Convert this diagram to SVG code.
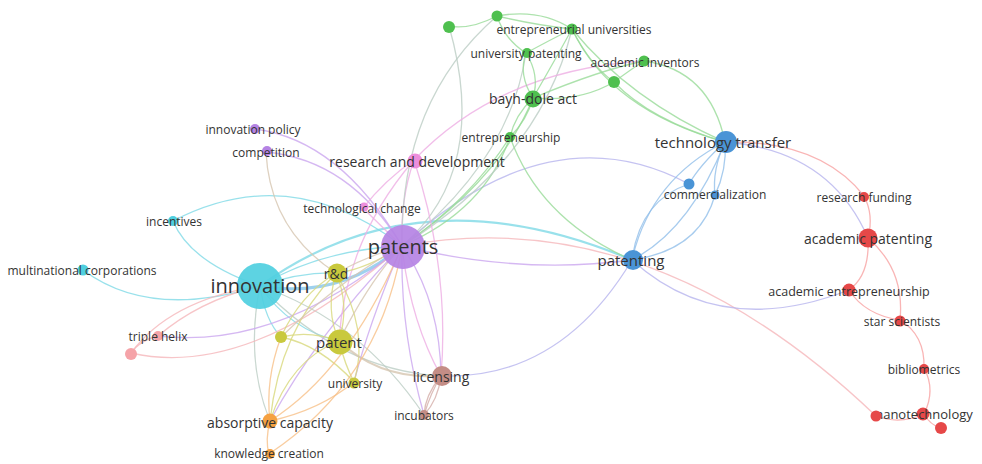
<svg xmlns="http://www.w3.org/2000/svg" width="982" height="464" viewBox="0 0 982 464">
<style>
.e{fill:none;stroke-width:1.3;stroke-opacity:0.8}
.w2{stroke-width:2.2}
.w3{stroke-width:3.2}
.cy{stroke:#7fd9e6}.pu{stroke:#caa6ef}.ye{stroke:#d8d87c}.or{stroke:#f7c088}.br{stroke:#d4aea9}
.pk{stroke:#f5b7ba}.mg{stroke:#eeaee4}.gr{stroke:#98db98}.bl{stroke:#92bfea}.rd{stroke:#f7a3a3}
.gy{stroke:#bccdc4}.pb{stroke:#b7b4ee}.cb{stroke:#86c6ea}.yp{stroke:#d6c6b0}
text{font-family:"Open Sans","DejaVu Sans",sans-serif;fill:#333;text-anchor:middle;dominant-baseline:central}
.n{stroke:none}
</style>
<rect width="982" height="464" fill="#ffffff"/>
<g id="connectors">
<!-- cyan / innovation -->
<path class="e cy" d="M260 286 Q190 262 173 221"/>
<path class="e cy" d="M83 270 Q150 320 260 286"/>
<path class="e cy" d="M173 221 Q290 160 402 246"/>
<path class="e cb w3" d="M260 286 Q340 300 402 246"/>
<path class="e cy" d="M260 286 Q320 250 402 246"/>
<path class="e cy w2" d="M260 286 Q420 170 632 260"/>
<path class="e cy" d="M260 286 Q300 272 336 273"/>
<path class="e cy" d="M260 286 Q290 330 339 341"/>
<path class="e gy" d="M260 286 Q245 360 270 421"/>
<path class="e gy" d="M260 286 Q340 370 441 376"/>
<path class="e cy" d="M260 286 Q265 320 281 337"/>
<path class="e pk" d="M158 336 Q200 300 260 286"/>
<path class="e gy" d="M260 286 Q360 320 424 415"/>
<!-- purple / patents -->
<path class="e pu" d="M402 246 Q340 140 255 129"/>
<path class="e pu" d="M266 152 Q350 160 402 246"/>
<path class="e yp" d="M266 152 Q270 230 336 273"/>
<path class="e mg" d="M402 246 Q400 200 414 160"/>
<path class="e mg" d="M402 246 Q380 225 363 208"/>
<path class="e pu" d="M402 246 Q440 300 441 376"/>
<path class="e mg" d="M402 246 Q410 320 441 376"/>
<path class="e pu" d="M402 246 Q400 330 424 415"/>
<path class="e pu" d="M402 246 Q370 320 354 382"/>
<path class="e pu" d="M402 246 Q320 330 270 421"/>
<path class="e pk" d="M402 246 Q250 380 131 353"/>
<path class="e pu" d="M402 246 Q280 350 158 336"/>
<path class="e pu" d="M402 246 Q520 275 632 260"/>
<path class="e pk" d="M402 246 Q650 200 876 416"/>
<path class="e pb" d="M402 246 Q550 110 689 184"/>
<path class="e gr" d="M402 246 Q470 200 510 137"/>
<path class="e gr" d="M402 246 Q485 210 510 137"/>
<path class="e gr" d="M402 246 Q500 180 533 98"/>
<path class="e gy" d="M402 246 Q510 160 526 53"/>
<path class="e gy" d="M449 26 Q490 170 402 246"/>
<path class="e gy" d="M497 16 Q400 100 402 246"/>
<path class="e gy" d="M572 29 Q540 160 402 246"/>
<path class="e mg" d="M644 61 Q500 70 414 160"/>
<path class="e mg" d="M414 160 Q385 180 363 208"/>
<path class="e mg" d="M414 160 Q450 270 441 376"/>
<path class="e mg" d="M414 160 Q345 240 339 341"/>
<!-- yellow -->
<path class="e ye" d="M336 273 Q350 305 339 341"/>
<path class="e ye" d="M336 273 Q325 310 339 341"/>
<path class="e ye" d="M336 273 Q300 295 281 337"/>
<path class="e ye" d="M336 273 Q370 330 354 382"/>
<path class="e ye" d="M336 273 Q280 330 270 421"/>
<path class="e yp" d="M336 273 Q370 255 402 246"/>
<path class="e ye" d="M336 273 Q365 270 402 246"/>
<path class="e ye" d="M339 341 Q345 365 354 382"/>
<path class="e yp w2" d="M339 341 Q380 380 441 376"/>
<path class="e ye" d="M339 341 Q290 360 270 421"/>
<path class="e ye" d="M281 337 Q310 330 339 341"/>
<path class="e or" d="M281 337 Q265 380 270 421"/>
<path class="e ye" d="M281 337 Q320 345 354 382"/>
<path class="e yp" d="M281 337 Q340 280 402 246"/>
<path class="e yp" d="M339 341 Q370 280 402 246"/>
<!-- orange -->
<path class="e or" d="M270 421 Q265 440 269 454"/>
<path class="e or" d="M269 454 Q380 380 402 246"/>
<path class="e or" d="M270 421 Q320 410 354 382"/>
<path class="e or" d="M270 421 Q350 370 402 246"/>
<!-- brown -->
<path class="e br" d="M441 376 Q425 395 424 415"/>
<path class="e br" d="M441 376 Q438 400 424 415"/>
<path class="e br" d="M441 376 Q431 392 424 415"/>
<path class="e pb" d="M441 376 Q560 380 632 260"/>
<!-- green -->
<path class="e gr" d="M449 26 Q470 30 497 16"/>
<path class="e gr" d="M497 16 Q540 8 572 29"/>
<path class="e gr" d="M497 16 Q535 25 572 29"/>
<path class="e gr" d="M644 61 Q710 70 725 142"/>
<path class="e gr" d="M572 29 Q610 110 725 142"/>
<path class="e gr" d="M572 29 Q630 100 725 142"/>
<path class="e gr" d="M614 82 Q650 120 725 142"/>
<path class="e gr" d="M526 53 Q518 75 533 98"/>
<path class="e gr" d="M526 53 Q540 75 533 98"/>
<path class="e gr" d="M526 53 Q550 40 572 29"/>
<path class="e gr" d="M526 53 Q505 40 497 16"/>
<path class="e gr" d="M572 29 Q555 60 533 98"/>
<path class="e gr" d="M533 98 Q580 102 614 82"/>
<path class="e gr" d="M533 98 Q600 70 644 61"/>
<path class="e gr" d="M614 82 Q630 70 644 61"/>
<path class="e gr" d="M572 29 Q590 65 614 82"/>
<path class="e gr" d="M533 98 Q515 115 510 137"/>
<path class="e gr" d="M533 98 Q527 120 510 137"/>
<path class="e gr" d="M510 137 Q540 220 632 260"/>
<!-- blue -->
<path class="e bl" d="M725 142 Q700 165 689 184"/>
<path class="e bl" d="M725 142 Q712 170 715 195"/>
<path class="e bl" d="M725 142 Q727 170 715 195"/>
<path class="e bl" d="M725 142 Q650 180 632 260"/>
<path class="e bl" d="M725 142 Q690 230 632 260"/>
<path class="e bl" d="M689 184 Q640 200 632 260"/>
<path class="e bl" d="M715 195 Q700 250 632 260"/>
<path class="e pb" d="M632 260 Q720 340 849 290"/>
<path class="e pb" d="M725 142 Q830 150 868 238"/>
<path class="e rd" d="M725 142 Q820 140 864 196"/>
<!-- red -->
<path class="e rd" d="M864 196 Q874 215 868 238"/>
<path class="e rd" d="M868 238 Q870 275 849 290"/>
<path class="e rd" d="M868 238 Q905 270 900 320"/>
<path class="e rd" d="M849 290 Q865 315 900 320"/>
<path class="e rd" d="M900 320 Q925 335 924 368"/>
<path class="e rd" d="M924 368 Q936 390 924 414"/>
<path class="e rd" d="M876 416 Q900 425 924 414"/>
<path class="e rd" d="M924 414 Q930 425 941 428"/>
<!-- pink -->
<path class="e pk" d="M158 336 Q140 340 131 353"/>
<path class="e pk" d="M131 353 Q170 300 260 286"/>
</g>
<g id="node-patents"><circle class="n" cx="403" cy="247" r="22" fill="#b583e4" fill-opacity="0.92"/><text x="403" y="246" font-size="20">patents</text></g>
<g id="node-innovation"><circle class="n" cx="260" cy="286" r="23" fill="#4fcfdf" fill-opacity="0.92"/><text x="260" y="285" font-size="20">innovation</text></g>
<g id="node-rd"><circle class="n" cx="337" cy="273" r="9.5" fill="#c9c93d"/><text x="336" y="273" font-size="14">r&amp;d</text></g>
<g id="node-patent"><circle class="n" cx="340" cy="342" r="12.5" fill="#c9c93d"/><text x="339" y="342" font-size="15">patent</text></g>
<g id="node-yellow2"><circle class="n" cx="281" cy="337" r="6" fill="#c9c93d"/></g>
<g id="node-university"><circle class="n" cx="354" cy="383" r="5.5" fill="#c9c93d"/><text x="355" y="383" font-size="12">university</text></g>
<g id="node-licensing"><circle class="n" cx="442" cy="376" r="10" fill="#c48d86"/><text x="441" y="376" font-size="14">licensing</text></g>
<g id="node-incubators"><circle class="n" cx="424" cy="415" r="5" fill="#c48d86"/><text x="424" y="415" font-size="12">incubators</text></g>
<g id="node-absorptive"><circle class="n" cx="270" cy="421" r="7.5" fill="#f5a142"/><text x="270" y="422" font-size="14">absorptive capacity</text></g>
<g id="node-knowledge"><circle class="n" cx="270" cy="454" r="5" fill="#f5a142"/><text x="269" y="453" font-size="12">knowledge creation</text></g>
<g id="node-triplehelix"><circle class="n" cx="158" cy="336" r="5" fill="#f5a3a8"/><text x="158" y="336" font-size="12">triple helix</text></g>
<g id="node-pink2"><circle class="n" cx="131" cy="354" r="6" fill="#f5a3a8"/></g>
<g id="node-multinational"><circle class="n" cx="83" cy="270" r="5.5" fill="#4fcfdf"/><text x="82" y="270" font-size="12">multinational corporations</text></g>
<g id="node-incentives"><circle class="n" cx="173" cy="221" r="5" fill="#4fcfdf"/><text x="174" y="221" font-size="12">incentives</text></g>
<g id="node-innovationpolicy"><circle class="n" cx="255" cy="129" r="5" fill="#b583e4"/><text x="253" y="129" font-size="12">innovation policy</text></g>
<g id="node-competition"><circle class="n" cx="267" cy="151" r="5" fill="#b583e4"/><text x="266" y="152" font-size="12">competition</text></g>
<g id="node-rnd"><circle class="n" cx="415" cy="161" r="7.5" fill="#ec8edc"/><text x="417" y="161" font-size="14">research and development</text></g>
<g id="node-techchange"><circle class="n" cx="364" cy="207" r="4.5" fill="#ec8edc"/><text x="362" y="208" font-size="12">technological change</text></g>
<g id="node-entrepreneurship"><circle class="n" cx="510" cy="137" r="5" fill="#4fc04f"/><text x="511" y="137" font-size="12">entrepreneurship</text></g>
<g id="node-bayhdole"><circle class="n" cx="533" cy="99" r="8.5" fill="#4fc04f"/><text x="533" y="98" font-size="14">bayh-dole act</text></g>
<g id="node-univpatenting"><circle class="n" cx="527" cy="53" r="5" fill="#4fc04f"/><text x="526" y="53" font-size="12">university patenting</text></g>
<g id="node-entuniv"><circle class="n" cx="572" cy="29" r="5.5" fill="#4fc04f"/><text x="574" y="29" font-size="12">entrepreneurial universities</text></g>
<g id="node-green1"><circle class="n" cx="449" cy="27" r="6" fill="#4fc04f"/></g>
<g id="node-green2"><circle class="n" cx="497" cy="16" r="5.5" fill="#4fc04f"/></g>
<g id="node-acadinventors"><circle class="n" cx="644" cy="61" r="5.5" fill="#4fc04f"/><text x="645" y="62" font-size="12">academic inventors</text></g>
<g id="node-green3"><circle class="n" cx="614" cy="82" r="6" fill="#4fc04f"/></g>
<g id="node-techtransfer"><circle class="n" cx="726" cy="142" r="11" fill="#4a94d6"/><text x="723" y="142" font-size="15">technology transfer</text></g>
<g id="node-blue1"><circle class="n" cx="689" cy="184" r="5.5" fill="#4a94d6"/></g>
<g id="node-commercialization"><circle class="n" cx="715" cy="195" r="4.5" fill="#4a94d6"/><text x="715" y="194" font-size="12">commercialization</text></g>
<g id="node-patenting"><circle class="n" cx="633" cy="260" r="10" fill="#4a94d6"/><text x="631" y="260" font-size="15">patenting</text></g>
<g id="node-researchfunding"><circle class="n" cx="864" cy="197" r="5" fill="#e64848"/><text x="864" y="197" font-size="12">research funding</text></g>
<g id="node-acadpatenting"><circle class="n" cx="868" cy="238" r="9.5" fill="#e64848"/><text x="868" y="238" font-size="14">academic patenting</text></g>
<g id="node-acadentrepreneurship"><circle class="n" cx="849" cy="290" r="6.5" fill="#e64848"/><text x="849" y="291" font-size="12.5">academic entrepreneurship</text></g>
<g id="node-starscientists"><circle class="n" cx="900" cy="321" r="5.5" fill="#e64848"/><text x="902" y="321" font-size="12">star scientists</text></g>
<g id="node-bibliometrics"><circle class="n" cx="924" cy="369" r="5" fill="#e64848"/><text x="924" y="369" font-size="12">bibliometrics</text></g>
<g id="node-nanotechnology"><circle class="n" cx="923" cy="414" r="6.5" fill="#e64848"/><text x="924" y="414" font-size="13">nanotechnology</text></g>
<g id="node-red1"><circle class="n" cx="876" cy="416" r="5.5" fill="#e64848"/></g>
<g id="node-red2"><circle class="n" cx="941" cy="428" r="6" fill="#e64848"/></g>
</svg>
